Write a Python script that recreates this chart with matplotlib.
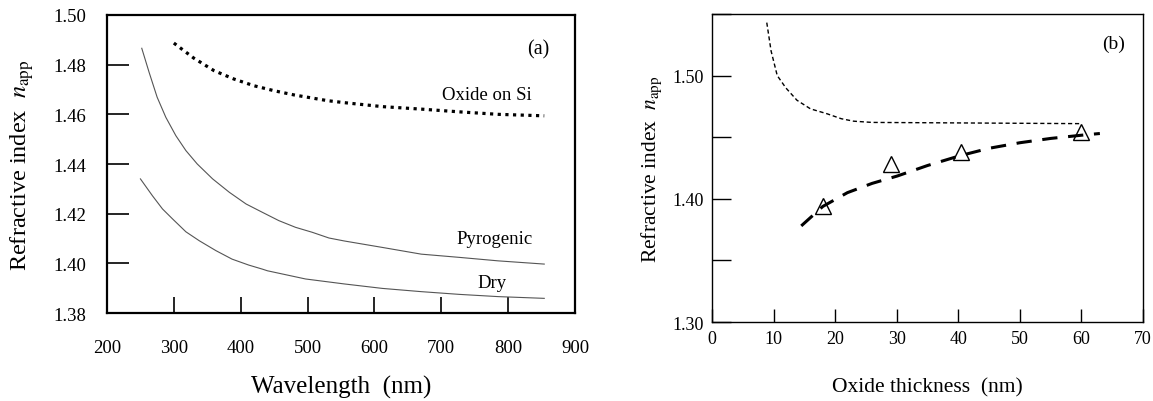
import numpy as np
import matplotlib
matplotlib.use("Agg")
import matplotlib.pyplot as plt

plt.rcParams['font.family'] = ['Liberation Serif', 'DejaVu Serif']
plt.rcParams['mathtext.fontset'] = 'stix'

# --- panel (a): apparent refractive index vs wavelength ---
wl_oxide = [300, 330, 360, 390, 420, 450, 480, 530, 555, 612, 670, 727, 785, 854]
n_oxide = [1.4887, 1.4826, 1.4776, 1.4742, 1.4715, 1.4695, 1.4678, 1.4655, 1.4647,
           1.4631, 1.4621, 1.4610, 1.4600, 1.4594]

wl_pyro = [252, 263, 275, 288, 303, 318, 335, 358, 383, 408, 432, 457, 482, 507, 532,
           555, 612, 670, 727, 785, 854]
n_pyro = [1.4866, 1.4769, 1.4669, 1.4588, 1.4514, 1.4454, 1.4400, 1.4340, 1.4286, 1.4239,
          1.4206, 1.4172, 1.4145, 1.4125, 1.4102, 1.4090, 1.4064, 1.4037, 1.4024, 1.4010, 1.3997]

wl_dry = [250, 268, 283, 298, 318, 338, 363, 387, 412, 432, 440, 497, 555, 612, 670, 727, 785, 854]
n_dry = [1.4340, 1.4272, 1.4219, 1.4179, 1.4127, 1.4091, 1.4051, 1.4017, 1.3993, 1.3977,
         1.3970, 1.3937, 1.3917, 1.3899, 1.3886, 1.3875, 1.3866, 1.3859]

# --- panel (b): apparent refractive index vs oxide thickness ---
t_bulk = [8.9, 9.6, 10.6, 12.0, 13.8, 16.0, 18.7, 21.0, 23.0, 26.0, 60.0]
n_bulk = [1.543, 1.520, 1.500, 1.490, 1.480, 1.473, 1.469, 1.465, 1.463, 1.462, 1.461]

t_fit = [14.5, 18.0, 22.0, 26.0, 30.1, 35.0, 40.3, 45.0, 50.0, 55.0, 60.0, 63.0]
n_fit = [1.378, 1.3938, 1.4050, 1.4125, 1.4185, 1.4270, 1.4350, 1.4410, 1.4455, 1.4490, 1.4516, 1.4530]

t_meas = [18.0, 29.0, 40.5, 60.0]
n_meas = [1.394, 1.428, 1.438, 1.454]

fig = plt.figure(figsize=(11.53, 4.02), dpi=100)

# panel (a)
ax1 = fig.add_axes([0.0928, 0.2189, 0.4059, 0.7413])
ax1.plot(wl_pyro, n_pyro, color='#555555', lw=0.8)
ax1.plot(wl_dry, n_dry, color='#555555', lw=0.8)
ax1.plot(wl_oxide, n_oxide, color='black', lw=2.3, dashes=(1.0, 1.4), dash_capstyle='butt')
ax1.text(768, 1.468, 'Oxide on Si', fontsize=13.5, ha='center', va='center')
ax1.text(779, 1.4098, 'Pyrogenic', fontsize=13.5, ha='center', va='center')
ax1.text(776, 1.3923, 'Dry', fontsize=13.5, ha='center', va='center')
ax1.text(845, 1.4865, '(a)', fontsize=14.5, ha='center', va='center')
ax1.set_xlim(200, 900)
ax1.set_ylim(1.38, 1.50)
ax1.set_xticks(np.arange(200, 901, 100))
ax1.set_yticks(np.arange(1.38, 1.501, 0.02))
ax1.set_yticklabels(['1.38', '1.40', '1.42', '1.44', '1.46', '1.48', '1.50'])
ax1.tick_params(axis='x', direction='in', length=11.5, width=1.2, pad=19, labelsize=13.5)
ax1.tick_params(axis='y', direction='in', length=16, width=1.2, pad=15, labelsize=13.5)
for s in ax1.spines.values():
    s.set_linewidth(1.6)
ax1.set_xlabel('Wavelength  (nm)', fontsize=18, va='center')
ax1.xaxis.set_label_coords(0.5, -0.245)
ax1.set_ylabel(r'Refractive index  $n_{\rm app}$', fontsize=17.5, va='center')
ax1.yaxis.set_label_coords(-0.1816, 0.5)

# panel (b)
ax2 = fig.add_axes([0.6175, 0.1965, 0.3738, 0.7662])
ax2.plot(t_bulk, n_bulk, color='black', lw=1.0, dashes=(3, 2))
ax2.plot(t_fit, n_fit, color='black', lw=2.2, dashes=(5, 3.5))
ax2.plot(t_meas, n_meas, linestyle='none', marker='^', ms=12, mfc='none', mec='black', mew=1.0)
ax2.text(65.3, 1.526, '(b)', fontsize=14, ha='center', va='center')
ax2.set_xlim(0, 70)
ax2.set_ylim(1.30, 1.55)
ax2.set_xticks(np.arange(0, 71, 10))
ax2.set_yticks([1.30, 1.40, 1.50])
ax2.set_yticklabels(['1.30', '1.40', '1.50'])
ax2.set_yticks([1.35, 1.45, 1.55], minor=True)
ax2.tick_params(axis='x', direction='in', length=9.5, width=1.0, pad=6, labelsize=13)
ax2.tick_params(axis='y', which='both', direction='in', length=14, width=1.0, pad=6, labelsize=13)
for s in ax2.spines.values():
    s.set_linewidth(1.0)
ax2.set_xlabel('Oxide thickness  (nm)', fontsize=15.5, va='center')
ax2.xaxis.set_label_coords(0.5, -0.211)
ax2.set_ylabel(r'Refractive index  $n_{\rm app}$', fontsize=15.5, va='center')
ax2.yaxis.set_label_coords(-0.139, 0.5)

fig.savefig('out.png', dpi=100)
